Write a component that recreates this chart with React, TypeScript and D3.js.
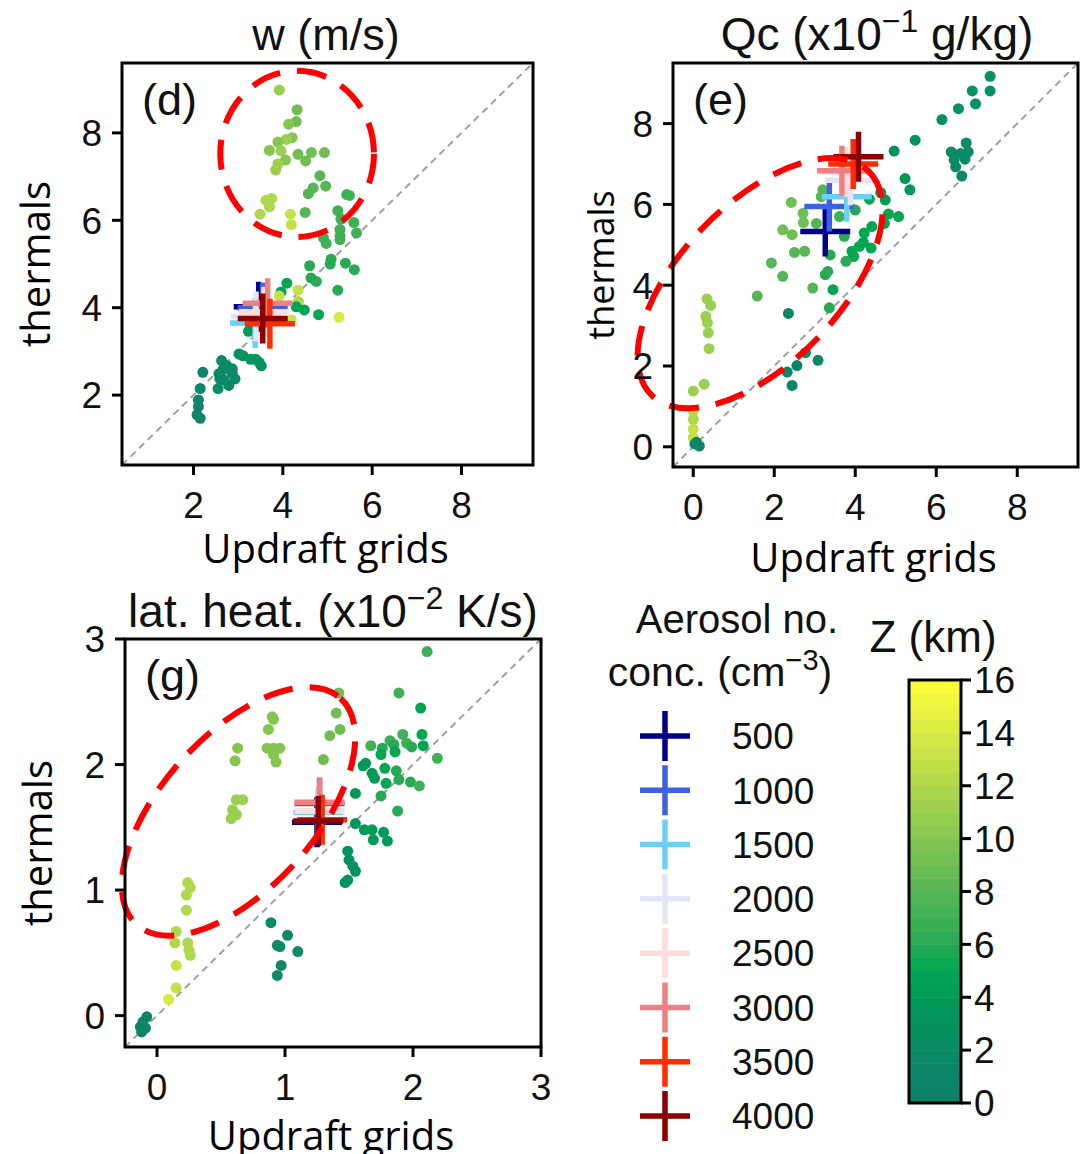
import React from 'react';
import * as d3 from 'd3';

// ---------------- DATA ----------------
const aerosolLevels = [500, 1000, 1500, 2000, 2500, 3000, 3500, 4000];
const aerosolColors = ['#00008b', '#3d62e0', '#6ecff6', '#e4e4f8', '#fddcdc', '#f08080', '#ff2d00', '#8b0000'];

const zTicks = [0, 2, 4, 6, 8, 10, 12, 14, 16];
const zStops = [0, 2, 4, 5, 6, 8, 10, 12, 14, 16];
const zStopColors = ['#0e7f6b', '#0a8a66', '#009a57', '#00a651', '#28aa55', '#56b655', '#85c651', '#afd84c', '#d8ea45', '#ffff3a'];

// [updraft grids, thermals, Z km]
const dPoints: [number, number, number][] = [
  [3.92, 8.98, 11], [4.32, 8.53, 9], [4.30, 8.26, 9], [4.13, 8.20, 10], [4.21, 7.89, 10], [4.08, 7.85, 11],
  [3.89, 7.79, 10], [3.70, 7.60, 10], [3.96, 7.59, 11], [4.06, 7.38, 10], [4.34, 7.51, 9], [4.64, 7.55, 9],
  [4.93, 7.55, 9], [4.51, 7.36, 9], [3.89, 7.29, 11], [3.84, 7.15, 11], [4.83, 7.02, 8], [4.96, 6.78, 8],
  [4.68, 6.74, 8], [4.57, 6.61, 8], [5.43, 6.59, 7], [5.49, 6.57, 7], [3.62, 6.46, 12], [3.75, 6.50, 12],
  [3.70, 6.31, 12], [3.49, 6.14, 12], [4.17, 6.14, 13], [4.19, 5.90, 13], [4.50, 6.18, 8], [5.23, 6.22, 7],
  [5.30, 6.03, 7], [5.59, 5.95, 7], [5.65, 5.71, 7], [5.28, 5.79, 7], [5.28, 5.64, 7], [4.91, 5.60, 7],
  [4.97, 5.47, 7], [5.28, 5.56, 7], [4.60, 4.96, 6], [5.08, 5.11, 6], [5.06, 5.00, 6], [5.40, 5.02, 6],
  [5.60, 4.87, 6], [4.63, 4.68, 6], [4.75, 4.60, 6], [5.23, 4.40, 6], [4.09, 4.56, 5], [3.96, 4.36, 5],
  [4.34, 4.40, 13], [3.92, 4.27, 13], [4.35, 4.14, 12], [4.30, 4.02, 5], [4.48, 3.95, 5], [4.80, 3.84, 5],
  [5.26, 3.78, 14], [4.19, 3.72, 13], [3.23, 3.46, 4], [3.28, 3.61, 4],
  [3.02, 2.94, 3], [3.11, 2.90, 3], [3.28, 2.82, 3], [3.39, 2.82, 3], [3.47, 2.75, 3], [3.52, 2.67, 3],
  [2.63, 2.79, 2], [2.75, 2.67, 2], [2.87, 2.60, 2], [2.66, 2.58, 2], [2.57, 2.49, 2], [2.87, 2.49, 2],
  [2.93, 2.37, 2], [2.68, 2.35, 2], [2.59, 2.37, 2], [2.79, 2.22, 2], [2.55, 2.15, 2], [2.21, 2.52, 1],
  [2.15, 2.15, 1], [2.11, 1.89, 1], [2.11, 1.74, 1], [2.08, 1.55, 1], [2.15, 1.47, 1],
];

const ePoints: [number, number, number][] = [
  [7.33, 9.17, 3], [6.89, 8.81, 3], [7.33, 8.81, 3], [6.97, 8.49, 3], [6.55, 8.37, 3], [6.14, 8.10, 3],
  [5.48, 7.59, 3], [4.96, 7.32, 3], [6.74, 7.52, 2], [6.37, 7.30, 2], [6.60, 7.26, 2], [6.79, 7.30, 2],
  [6.44, 7.10, 2], [6.71, 7.12, 2], [6.48, 6.93, 2], [6.63, 6.70, 2], [5.23, 6.64, 4], [5.35, 6.36, 4],
  [4.63, 6.29, 4], [4.74, 6.11, 4], [4.82, 5.76, 5], [5.07, 5.70, 5], [4.72, 5.53, 5], [4.41, 5.45, 5],
  [4.35, 6.13, 5], [4.22, 5.29, 5], [4.20, 5.06, 5], [4.39, 4.92, 5], [4.10, 4.96, 5], [3.92, 4.84, 5],
  [3.96, 4.71, 5], [3.77, 4.59, 6], [3.32, 4.34, 6], [3.26, 4.26, 6], [3.45, 3.89, 5], [3.36, 3.44, 6],
  [3.38, 4.75, 6], [3.73, 5.21, 6], [3.61, 5.70, 7], [4.00, 5.86, 6], [3.20, 6.36, 8], [3.16, 6.19, 8],
  [3.04, 5.53, 8], [2.42, 6.05, 9], [2.71, 5.78, 9], [2.72, 5.55, 9], [2.21, 5.37, 9], [2.44, 5.25, 9],
  [2.50, 4.81, 8], [2.75, 4.84, 8], [1.93, 4.55, 8], [2.21, 4.22, 8], [2.95, 3.93, 8], [1.58, 3.73, 8],
  [2.35, 3.30, 1], [2.77, 2.33, 2], [3.08, 2.14, 1], [2.56, 2.01, 1], [2.32, 1.85, 1], [2.44, 1.52, 1],
  [0.34, 3.66, 11], [0.43, 3.50, 11], [0.31, 3.23, 11], [0.35, 3.07, 11], [0.37, 2.82, 11], [0.39, 2.43, 11],
  [0.27, 1.55, 11], [0.00, 1.38, 11], [0.00, 0.89, 12], [0.00, 0.68, 12], [0.00, 0.44, 13], [0.00, 0.23, 13],
  [0.08, 0.11, 1], [0.15, 0.02, 1], [0.04, 0.07, 1],
];

const gPoints: [number, number, number][] = [
  [2.11, 2.90, 7], [1.89, 2.57, 7], [2.06, 2.45, 5], [1.42, 2.57, 9], [1.40, 2.41, 9], [1.35, 2.23, 9],
  [1.43, 2.28, 9], [1.30, 2.04, 9], [0.90, 2.38, 10], [0.91, 2.36, 10], [0.87, 2.28, 10], [0.86, 2.13, 10],
  [0.91, 2.13, 10], [0.96, 2.13, 10], [0.91, 2.08, 10], [0.93, 2.02, 10], [0.63, 2.13, 10], [0.61, 2.03, 10],
  [0.62, 1.72, 11], [0.67, 1.72, 11], [0.59, 1.64, 11], [0.62, 1.60, 11], [0.58, 1.57, 11],
  [1.67, 2.15, 7], [1.76, 2.13, 6], [1.82, 2.19, 7], [1.85, 2.16, 6], [1.92, 2.24, 7], [1.95, 2.17, 7],
  [1.99, 2.14, 6], [2.07, 2.24, 5], [2.08, 2.15, 5], [2.19, 2.05, 7], [1.75, 2.08, 5], [1.86, 2.10, 5],
  [1.63, 2.01, 4], [1.61, 1.99, 4], [1.68, 1.93, 4], [1.70, 1.89, 4], [1.78, 1.97, 5], [1.79, 1.85, 5],
  [1.87, 1.95, 6], [1.89, 1.88, 6], [1.98, 1.86, 6], [2.05, 1.83, 7], [1.55, 1.77, 4], [1.75, 1.75, 6],
  [1.88, 1.63, 6], [1.55, 1.53, 4], [1.62, 1.48, 4], [1.68, 1.48, 4], [1.77, 1.46, 4], [1.69, 1.40, 4],
  [1.80, 1.39, 4], [1.49, 1.31, 3], [1.50, 1.24, 3], [1.53, 1.19, 3], [1.55, 1.15, 3], [1.49, 1.08, 3],
  [1.47, 1.06, 3],
  [0.89, 0.74, 2], [1.02, 0.64, 2], [0.94, 0.56, 2], [0.96, 0.55, 2], [1.10, 0.51, 2], [0.97, 0.40, 2],
  [0.94, 0.32, 2],
  [0.24, 1.06, 12], [0.26, 1.02, 12], [0.23, 0.96, 12], [0.23, 0.84, 12], [0.15, 0.67, 12], [0.14, 0.58, 12],
  [0.24, 0.58, 12], [0.25, 0.52, 12], [0.26, 0.48, 12], [0.15, 0.40, 13], [0.15, 0.22, 13], [0.09, 0.13, 14],
  [-0.08, -0.01, 1], [-0.11, -0.05, 1], [-0.13, -0.09, 1], [-0.09, -0.10, 1], [-0.12, -0.13, 1],
];

// mean values per aerosol case (same order as aerosolLevels)
const dCross: [number, number][] = [[3.46, 4.02], [3.55, 4.00], [3.38, 3.65], [3.40, 3.80], [3.58, 3.91], [3.66, 4.10], [3.71, 3.63], [3.55, 3.75]];
const eCross: [number, number][] = [[3.26, 5.33], [3.36, 5.95], [3.79, 6.19], [3.88, 6.60], [3.77, 6.81], [3.67, 6.83], [3.95, 7.00], [4.08, 7.18]];
const gCross: [number, number][] = [[1.25, 1.54], [1.27, 1.69], [1.26, 1.62], [1.27, 1.63], [1.27, 1.63], [1.27, 1.70], [1.29, 1.56], [1.26, 1.55]];

const dTicks = [2, 4, 6, 8];
const eTicks = [0, 2, 4, 6, 8];
const gTicks = [0, 1, 2, 3];

// annotation ellipses (data units): cx, cy, semi-axis a, semi-axis b, rotation deg
const dEllipse = [4.32, 7.52, 1.72, 1.9, 0];
const eEllipse = [1.65, 4.05, 3.85, 1.97, -46];
const gEllipse = [0.637, 1.626, 1.19, 0.61, -48];

// ---------------- STYLE ----------------
const HELV = '"Liberation Sans", Arial, Helvetica, sans-serif';
const LABELF = '"Open Sans", "Noto Sans", sans-serif';

const zColor = d3.scaleLinear<string>().domain(zStops).range(zStopColors).interpolate(d3.interpolateRgb).clamp(true);

type PanelProps = {
  box: { x0: number; x1: number; y0: number; y1: number };
  domain: [number, number];
  ticks: number[];
  points: [number, number, number][];
  crosses: [number, number][];
  ellipse: number[];
  label: string;
  ylabelSize: number;
  ylabelX: number;
  xlabelY: number;
};

function Cross({ cx, cy, color }: { cx: number; cy: number; color: string }) {
  const s = 25;
  return (
    <path d={`M${cx - s},${cy}H${cx + s}M${cx},${cy - s}V${cy + s}`} stroke={color} strokeWidth={5.5} fill="none" />
  );
}

function Panel(p: PanelProps) {
  const { box, domain } = p;
  const x = d3.scaleLinear().domain(domain).range([box.x0, box.x1]);
  const y = d3.scaleLinear().domain(domain).range([box.y1, box.y0]);
  const [ecx, ecy, ea, eb, ang] = p.ellipse;
  const kx = Math.abs(x(1) - x(0));
  const ky = Math.abs(y(1) - y(0));
  const cxp = x(ecx), cyp = y(ecy);
  return (
    <g>
      <line x1={x(domain[0])} y1={y(domain[0])} x2={x(domain[1])} y2={y(domain[1])} stroke="#a0a0a0" strokeWidth={2} strokeDasharray="7,5" />
      {p.points.map((d, i) => (
        <circle key={i} cx={x(d[0])} cy={y(d[1])} r={5.5} fill={zColor(d[2])} />
      ))}
      {p.crosses.map((c, i) => (
        <Cross key={i} cx={x(c[0])} cy={y(c[1])} color={aerosolColors[i]} />
      ))}
      <ellipse cx={cxp} cy={cyp} rx={ea * kx} ry={eb * ky} transform={`rotate(${ang},${cxp},${cyp})`}
        fill="none" stroke="#ff0000" strokeWidth={6} strokeDasharray="30,17" />
      <rect x={box.x0} y={box.y0} width={box.x1 - box.x0} height={box.y1 - box.y0} fill="none" stroke="#000" strokeWidth={3} />
      {p.ticks.map((t) => (
        <g key={'x' + t}>
          <line x1={x(t)} x2={x(t)} y1={box.y1} y2={box.y1 + 10} stroke="#000" strokeWidth={3} />
          <text x={x(t)} y={box.y1 + 53} textAnchor="middle" fontFamily={HELV} fontSize={37} fill="#111">{t}</text>
        </g>
      ))}
      {p.ticks.map((t) => (
        <g key={'y' + t}>
          <line x1={box.x0 - 10} x2={box.x0} y1={y(t)} y2={y(t)} stroke="#000" strokeWidth={3} />
          <text x={box.x0 - 20} y={y(t)} dy="0.36em" textAnchor="end" fontFamily={HELV} fontSize={37} fill="#111">{t}</text>
        </g>
      ))}
      <text x={box.x0 + 20} y={box.y0 + 52} fontFamily={HELV} fontSize={45} fill="#111">{p.label}</text>
      <text x={(box.x0 + box.x1) / 2 - 2} y={p.xlabelY} textAnchor="middle" fontFamily={LABELF} fontSize={40} fill="#000">Updraft grids</text>
      <text transform={`translate(${p.ylabelX},${(box.y0 + box.y1) / 2}) rotate(-90)`} textAnchor="middle" fontFamily={LABELF} fontSize={p.ylabelSize} fill="#000">thermals</text>
    </g>
  );
}

function ColorBar() {
  const x0 = 909, x1 = 961;
  const yz = d3.scaleLinear().domain([0, 16]).range([1103, 680]);
  const bands = d3.range(0, 16, 0.5);
  return (
    <g>
      {bands.map((b) => (
        <rect key={b} x={x0} y={yz(b + 0.5)} width={x1 - x0} height={yz(b) - yz(b + 0.5) + 0.5} fill={zColor(b + 0.25)} />
      ))}
      <rect x={x0} y={yz(16)} width={x1 - x0} height={yz(0) - yz(16)} fill="none" stroke="#000" strokeWidth={3} />
      {zTicks.map((t) => (
        <g key={t}>
          <line x1={x1} x2={x1 + 10} y1={yz(t)} y2={yz(t)} stroke="#000" strokeWidth={3} />
          <text x={x1 + 13} y={yz(t)} dy="0.36em" fontFamily={HELV} fontSize={37} fill="#111">{t}</text>
        </g>
      ))}
      <text x={933} y={652} textAnchor="middle" fontFamily={HELV} fontSize={44} fill="#111">Z (km)</text>
    </g>
  );
}

function Legend() {
  const ys = d3.scalePoint<number>().domain(aerosolLevels).range([736, 1116]);
  return (
    <g>
      <text x={737} y={633} textAnchor="middle" fontFamily={HELV} fontSize={40} fill="#111">Aerosol no.</text>
      <text x={720} y={686} textAnchor="middle" fontFamily={HELV} fontSize={41} fill="#111">
        <tspan>conc. (cm</tspan>
        <tspan dy={-16} fontSize={29}>−3</tspan>
        <tspan dy={16}>)</tspan>
      </text>
      {aerosolLevels.map((lv, i) => (
        <g key={lv}>
          <Cross cx={665} cy={ys(lv)!} color={aerosolColors[i]} />
          <text x={732} y={ys(lv)!} dy="0.36em" fontFamily={HELV} fontSize={37} fill="#111">{lv}</text>
        </g>
      ))}
    </g>
  );
}

export default function App() {
  return (
    <div style={{ position: 'absolute', left: 0, top: 0 }}>
      <svg width={1081} height={1154} style={{ display: 'block', background: '#fff' }}>
        <text x={326} y={50} textAnchor="middle" fontFamily={HELV} fontSize={45} fill="#111">w (m/s)</text>
        <text x={877} y={50} textAnchor="middle" fontFamily={HELV} fontSize={46} fill="#111">
          <tspan>Qc (x10</tspan>
          <tspan dy={-18} fontSize={32}>−1</tspan>
          <tspan dy={18}> g/kg)</tspan>
        </text>
        <text x={333} y={627} textAnchor="middle" fontFamily={HELV} fontSize={46} fill="#111">
          <tspan>lat. heat. (x10</tspan>
          <tspan dy={-18} fontSize={32}>−2</tspan>
          <tspan dy={18}> K/s)</tspan>
        </text>
        <Panel box={{ x0: 122, x1: 533, y0: 63, y1: 465 }} domain={[0.4, 9.6]} ticks={dTicks} points={dPoints}
          crosses={dCross} ellipse={dEllipse} label="(d)" ylabelSize={40} ylabelX={50} xlabelY={563} />
        <Panel box={{ x0: 673, x1: 1078, y0: 63, y1: 467 }} domain={[-0.5, 9.5]} ticks={eTicks} points={ePoints}
          crosses={eCross} ellipse={eEllipse} label="(e)" ylabelSize={36} ylabelX={614} xlabelY={572} />
        <Panel box={{ x0: 125, x1: 541, y0: 639, y1: 1047 }} domain={[-0.25, 3.0]} ticks={gTicks} points={gPoints}
          crosses={gCross} ellipse={gEllipse} label="(g)" ylabelSize={40} ylabelX={52} xlabelY={1150} />
        <Legend />
        <ColorBar />
      </svg>
    </div>
  );
}
